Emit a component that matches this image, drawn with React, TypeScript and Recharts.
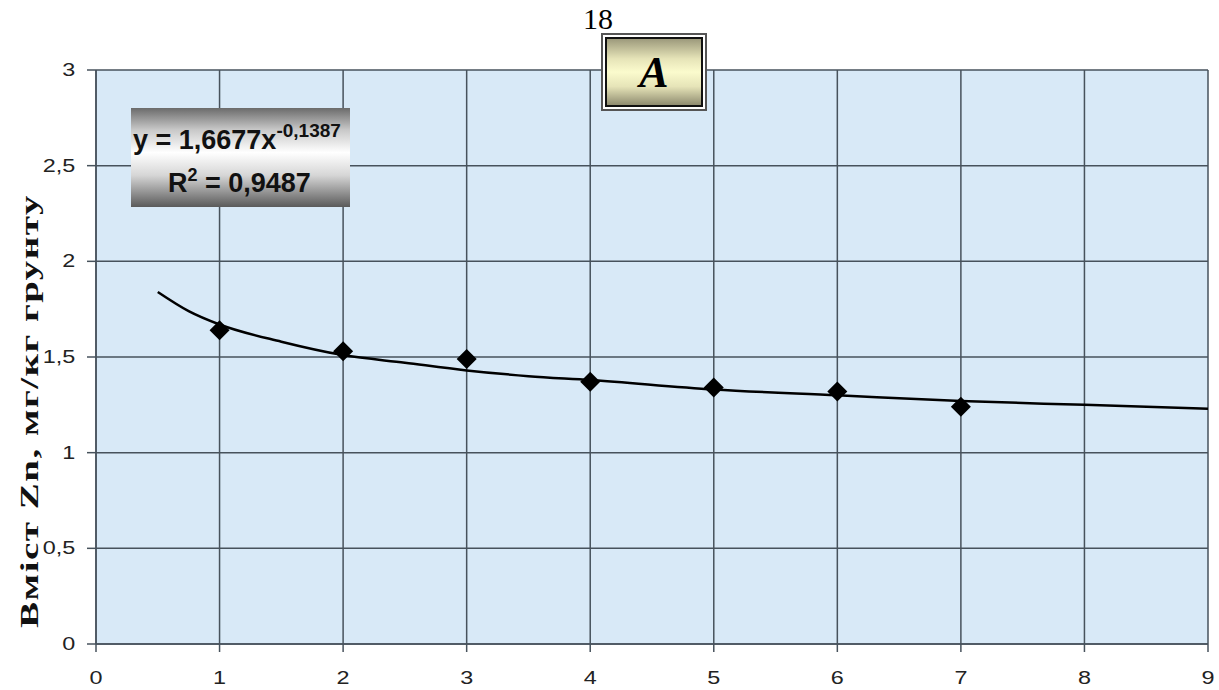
import React from "react";
import {
  CartesianGrid,
  ComposedChart,
  Line,
  Scatter,
  XAxis,
  YAxis,
} from "recharts";

// measured points (x = 1..7)
const pointX = [1, 2, 3, 4, 5, 6, 7];
const pointY = [1.64, 1.53, 1.49, 1.37, 1.34, 1.32, 1.24];

// power trend line
const trendX = [0.5, 0.75, 1, 1.5, 2, 2.5, 3, 3.5, 4, 5, 6, 7, 8, 9];
const trendY = [1.84, 1.74, 1.67, 1.58, 1.51, 1.47, 1.43, 1.4, 1.38, 1.33, 1.3, 1.27, 1.25, 1.23];

const xTicks = [0, 1, 2, 3, 4, 5, 6, 7, 8, 9];
const yTicks = [0, 0.5, 1, 1.5, 2, 2.5, 3];

const points = pointX.map((x, i) => ({ x, y: pointY[i] }));
const trend = trendX.map((x, i) => ({ x, t: trendY[i] }));

const fmt = (v: number) => String(v).replace(".", ",");
const sans = "Arial, 'Liberation Sans', sans-serif";
const serif = "'Liberation Serif', 'Times New Roman', serif";

const Diamond = (props: any) => {
  const { cx, cy } = props;
  const r = 10;
  return (
    <polygon
      points={`${cx},${cy - r} ${cx + r},${cy} ${cx},${cy + r} ${cx - r},${cy}`}
      fill="#000"
    />
  );
};

// the source picture is stretched sideways, so tick text is widened
const XTick = (props: any) => {
  const { x, y, payload } = props;
  return (
    <g transform={`translate(${x},${y})`}>
      <text transform="scale(1.3,1)" textAnchor="middle" y={32} fontFamily={sans} fontSize={18} fill="#222">
        {fmt(payload.value)}
      </text>
    </g>
  );
};

const YTick = (props: any) => {
  const { x, y, payload } = props;
  return (
    <g transform={`translate(${x},${y})`}>
      <text transform="scale(1.3,1)" textAnchor="end" x={-9} y={6} fontFamily={sans} fontSize={18} fill="#222">
        {fmt(payload.value)}
      </text>
    </g>
  );
};

export default function App() {
  return (
    <div style={{ position: "absolute", left: 0, top: 0, width: 1219, height: 690, background: "#fff" }}>
      <ComposedChart
        width={1219}
        height={690}
        margin={{ top: 70, right: 11, bottom: 0, left: 0 }}
      >
        <CartesianGrid
          fill="#d8e9f7"
          stroke="#47525c"
          strokeWidth={1.5}
          horizontalValues={yTicks}
          verticalValues={xTicks}
        />
        <XAxis
          type="number"
          dataKey="x"
          domain={[0, 9]}
          ticks={xTicks}
          allowDataOverflow
          height={46}
          tickSize={8}
          tickMargin={0}
          tick={<XTick />}
          stroke="#47525c"
          strokeWidth={1.5}
        />
        <YAxis
          type="number"
          domain={[0, 3]}
          ticks={yTicks}
          width={96}
          tickSize={9}
          tickMargin={0}
          tick={<YTick />}
          stroke="#47525c"
          strokeWidth={1.5}
        />
        <Line
          data={trend}
          dataKey="t"
          type="monotone"
          stroke="#000"
          strokeWidth={2.5}
          dot={false}
          isAnimationActive={false}
        />
        <Scatter
          data={points}
          dataKey="y"
          shape={Diamond}
          isAnimationActive={false}
        />
      </ComposedChart>

      {/* y axis title */}
      <div
        style={{
          position: "absolute",
          left: 30,
          top: 411,
          transform: "translate(-50%, -50%) rotate(-90deg) scale(1.5, 1)",
          whiteSpace: "nowrap",
          fontFamily: serif,
          fontWeight: "bold",
          fontSize: 26,
          letterSpacing: 1,
          lineHeight: 1,
          color: "#111",
        }}
      >
        Вміст Zn, мг/кг грунту
      </div>

      {/* page number */}
      <div
        style={{
          position: "absolute",
          left: 598,
          top: 19,
          transform: "translate(-50%, -50%)",
          fontFamily: serif,
          fontSize: 30,
          lineHeight: 1,
          color: "#000",
        }}
      >
        18
      </div>

      {/* panel label */}
      <div
        style={{
          position: "absolute",
          left: 601,
          top: 33,
          width: 106,
          height: 78,
          boxSizing: "border-box",
          border: "2px solid #555",
          padding: 2,
          background: "#fff",
        }}
      >
        <div
          style={{
            width: "100%",
            height: "100%",
            boxSizing: "border-box",
            border: "2px solid #111",
            background: "linear-gradient(#9d9a7c 0%, #e6e4b8 30%, #fbfbcd 50%, #e6e4b8 72%, #8f8c70 100%)",
            display: "flex",
            alignItems: "center",
            justifyContent: "center",
            fontFamily: serif,
            fontWeight: "bold",
            fontStyle: "italic",
            fontSize: 44,
            color: "#000",
          }}
        >
          A
        </div>
      </div>

      {/* trend equation */}
      <div
        style={{
          position: "absolute",
          left: 131,
          top: 108,
          width: 219,
          height: 99,
          background: "linear-gradient(#6b6b6b 0%, #c8c8c8 22%, #ffffff 45%, #d6d6d6 68%, #5a5a5a 100%)",
          fontFamily: sans,
          fontWeight: "bold",
          color: "#111",
        }}
      >
        <div style={{ position: "absolute", left: 2, top: 19, fontSize: 27, lineHeight: 1, whiteSpace: "nowrap" }}>
          y = 1,6677x
          <span style={{ fontSize: 19, position: "relative", top: -12 }}>-0,1387</span>
        </div>
        <div style={{ position: "absolute", left: 37, top: 62, fontSize: 27, lineHeight: 1, whiteSpace: "nowrap" }}>
          R<span style={{ fontSize: 18, position: "relative", top: -11 }}>2</span> = 0,9487
        </div>
      </div>
    </div>
  );
}
